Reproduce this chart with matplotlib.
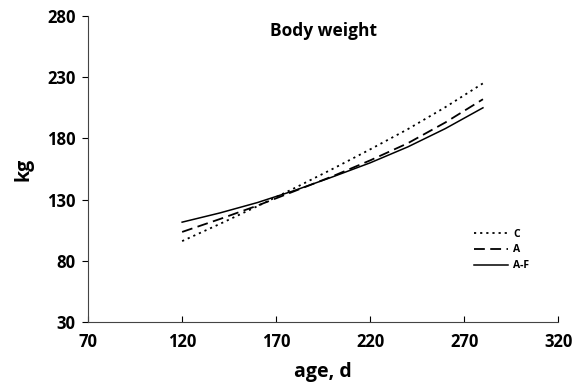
import matplotlib
matplotlib.use("Agg")
import matplotlib.pyplot as plt

# age in days and body weight (kg) per group
age = [120, 140, 160, 180, 200, 220, 240, 260, 280]
c_weight = [96, 110, 124.5, 139.5, 155, 171, 187.5, 205.5, 225]
a_weight = [103.5, 114, 125, 137, 149, 162, 176, 193, 212]
af_weight = [111.5, 119, 127.5, 137.5, 148.5, 160, 173, 188, 205]

x_ticks = [70, 120, 170, 220, 270, 320]
y_ticks = [30, 80, 130, 180, 230, 280]

plt.rcParams['font.family'] = ['Open Sans', 'DejaVu Sans']

fig = plt.figure(figsize=(5.76, 3.92), dpi=100)
ax = fig.add_axes([0.153, 0.179, 0.816, 0.780])

ax.plot(age, c_weight, color='black', lw=1.3, linestyle=(0, (1.2, 2.2)), label='C')
ax.plot(age, a_weight, color='black', lw=1.3, linestyle=(0, (6, 3)), label='A')
ax.plot(age, af_weight, color='black', lw=1.1, linestyle='-', label='A-F')

ax.set_xlim(70, 320)
ax.set_ylim(30, 280)
ax.set_xticks(x_ticks)
ax.set_yticks(y_ticks)
ax.tick_params(axis='x', direction='in', length=4, width=0.8, pad=8, labelsize=12)
ax.tick_params(axis='y', direction='out', length=4, width=0.8, pad=5, labelsize=12)
for lab in ax.get_xticklabels() + ax.get_yticklabels():
    lab.set_fontweight('bold')

for s in ['top', 'right']:
    ax.spines[s].set_visible(False)
for s in ['left', 'bottom']:
    ax.spines[s].set_linewidth(0.8)
    ax.spines[s].set_color('#444444')

ax.set_xlabel('age, d', fontsize=14, fontweight='bold', labelpad=8)
ax.set_ylabel('kg', fontsize=14, fontweight='bold', labelpad=10)
ax.text(0.5, 0.95, 'Body weight', transform=ax.transAxes, ha='center', va='center',
        fontsize=12.5, fontweight='bold')

leg = ax.legend(loc='upper left', bbox_to_anchor=(0.80, 0.335), frameon=False,
                prop={'size': 7.5, 'weight': 'bold'}, handlelength=3.3,
                labelspacing=0.45, handletextpad=0.5)

fig.savefig('out.png', dpi=100)
